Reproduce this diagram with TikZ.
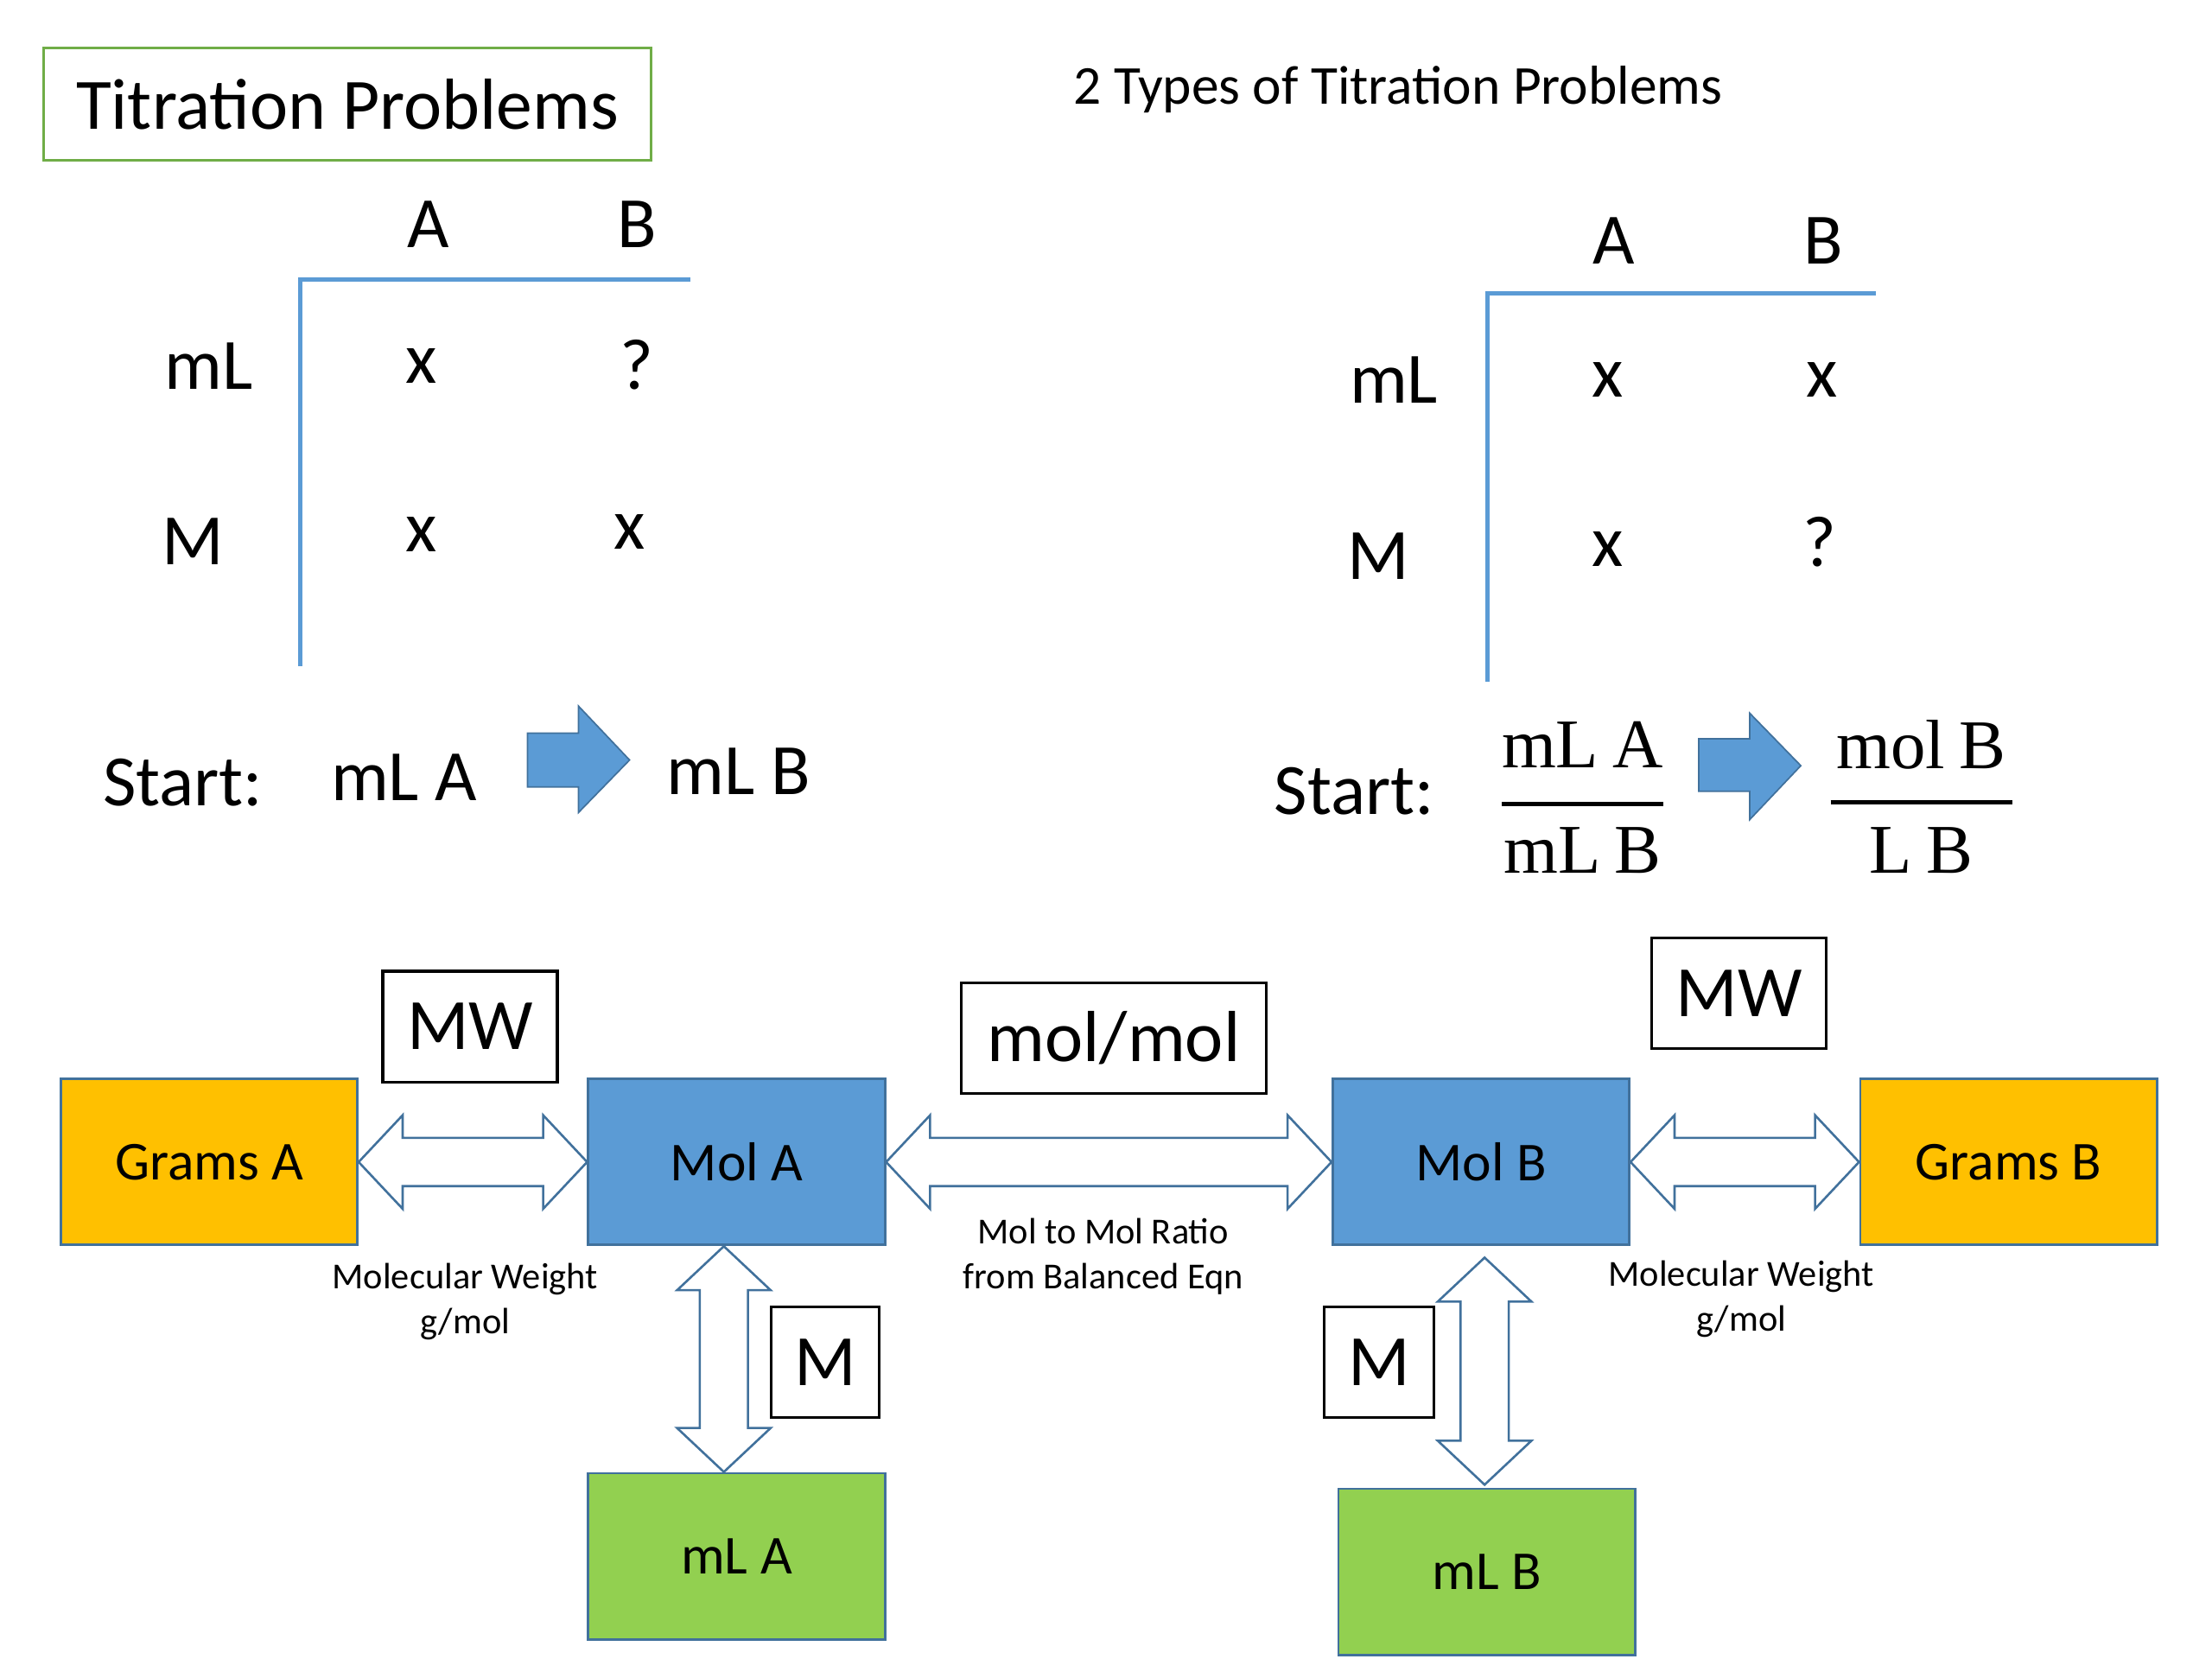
\documentclass[tikz,border=0pt]{standalone}
\usepackage{fontspec}
\setmainfont{Carlito}
\newfontfamily\serifm{Liberation Serif}
\usetikzlibrary{calc}
\definecolor{tblue}{HTML}{5B9BD5}
\definecolor{dblue}{HTML}{41719C}
\definecolor{torange}{HTML}{FFC000}
\definecolor{tgreen}{HTML}{92D050}
\definecolor{lgreen}{HTML}{70AD47}
\newcommand{\hdbl}[2]{%
  \path[dbl] (#1) -- ($(#1)+(31,-33)$) -- ($(#1)+(31,-17)$) -- ($(#2)+(-31,-17)$) -- ($(#2)+(-31,-33)$) -- (#2)
   -- ($(#2)+(-31,33)$) -- ($(#2)+(-31,17)$) -- ($(#1)+(31,17)$) -- ($(#1)+(31,33)$) -- cycle;}
\newcommand{\vdbl}[2]{%
  \path[dbl] (#1) -- ($(#1)+(-33,31)$) -- ($(#1)+(-17,31)$) -- ($(#2)+(-17,-31)$) -- ($(#2)+(-33,-31)$) -- (#2)
   -- ($(#2)+(33,-31)$) -- ($(#2)+(17,-31)$) -- ($(#1)+(17,31)$) -- ($(#1)+(33,31)$) -- cycle;}
\newcommand{\fsp}{\hspace{0.2em}}
\begin{document}
\begin{tikzpicture}[x=0.01cm,y=-0.01cm,
  big/.style={font=\fontsize{14.5}{17}\selectfont, inner sep=0pt},
  med/.style={font=\fontsize{11}{13}\selectfont, inner sep=0pt},
  small/.style={font=\fontsize{7.35}{9}\selectfont, inner sep=0pt, align=center},
  frac/.style={font=\serifm\fontsize{14}{16}\selectfont, inner sep=0pt},
  colbox/.style={draw=dblue, line width=0.5pt, minimum width=2.09cm, minimum height=1.17cm, inner sep=0pt, font=\fontsize{11}{13}\selectfont},
  lblbox/.style={draw=black, line width=0.55pt, minimum height=0.78cm, inner sep=0pt, font=\fontsize{14.5}{17}\selectfont},
  dbl/.style={draw=dblue, fill=white, line width=0.45pt, line join=miter},
  tline/.style={draw=tblue, line width=0.85pt},
  blockarrow/.style={fill=tblue, draw=dblue, line width=0.3pt},
  fracline/.style={draw=black, line width=0.85pt},
]
\useasboundingbox[fill=white] (0,0) rectangle (1560,1170);

% title
\node[draw=lgreen, line width=0.6pt, minimum width=4.28cm, minimum height=0.79cm, big] (title) at (245,73.5) {Titration Problems};
\node[med] (types) at (986,63) {2 Types of Titration Problems};

% left table
\coordinate (lt0) at (212,197);
\coordinate (lt1) at (487,197);
\coordinate (lt2) at (212,470);
\draw[tline] (lt1) -- (lt0) -- (lt2);
\node[big] (lA) at (302,158) {A};
\node[big] (lB) at (449,158) {B};
\node[big] (lmL) at (147,258) {mL};
\node[big] (lM) at (136,382) {M};
\node[big] (lx1) at (297,258) {x};
\node[big] (lq) at (449,257) {?};
\node[big] (lx2) at (297,377) {x};
\node[big] (lx3) at (444,375) {x};

% right table
\coordinate (rt0) at (1049,207);
\coordinate (rt1) at (1323,207);
\coordinate (rt2) at (1049,481);
\draw[tline] (rt1) -- (rt0) -- (rt2);
\node[big] (rA) at (1138,170) {A};
\node[big] (rB) at (1286,170) {B};
\node[big] (rmL) at (983,268) {mL};
\node[big] (rM) at (972,392) {M};
\node[big] (rx1) at (1134,268) {x};
\node[big] (rx2) at (1285,268) {x};
\node[big] (rx3) at (1134,387) {x};
\node[big] (rq) at (1283,382) {?};

% start left
\node[big] (ls) at (129,552) {Start:};
\node[big] (lmla) at (285,548) {mL A};
\node[big] (lmlb) at (521,544) {mL B};
\path[blockarrow] (372,517) -- (408,517) -- (408,498) -- (444,536) -- (408,573) -- (408,555) -- (372,555) -- cycle;

% start right
\node[big] (rs) at (955,558) {Start:};
\node[frac] (fn1) at (1116,525) {mL\fsp A};
\node[frac] (fd1) at (1116,600) {mL\fsp B};
\draw[fracline] (1059,567) -- (1173,567);
\path[blockarrow] (1198,521) -- (1234,521) -- (1234,503) -- (1270,540) -- (1234,578) -- (1234,558) -- (1198,558) -- cycle;
\node[frac] (fn2) at (1355,525) {mol\fsp B};
\node[frac] (fd2) at (1355,600) {L\fsp B};
\draw[fracline] (1291,566) -- (1419,566);

% flow boxes
\node[colbox, fill=torange] (ga) at (147.5,819.5) {Grams A};
\node[colbox, fill=tblue] (ma) at (519.5,819.5) {Mol A};
\node[colbox, fill=tblue] (mb) at (1044.5,819.5) {Mol B};
\node[colbox, fill=torange] (gb) at (1416.5,819.5) {Grams B};
\node[colbox, fill=tgreen] (la) at (519.5,1097.5) {mL A};
\node[colbox, fill=tgreen] (lb) at (1048.5,1108.5) {mL B};

% label boxes
\node[lblbox, minimum width=1.23cm] (mw1) at (331.5,724) {MW};
\node[lblbox, minimum width=2.15cm] (mm) at (785.5,732) {mol/mol};
\node[lblbox, minimum width=1.23cm] (mw2) at (1226.5,700.5) {MW};
\node[lblbox, minimum width=0.76cm] (m1) at (582,960.5) {M};
\node[lblbox, minimum width=0.77cm] (m2) at (972.5,960.5) {M};

% double arrows
\hdbl{ga.east}{ma.west}
\hdbl{ma.east}{mb.west}
\hdbl{mb.east}{gb.west}
\coordinate (va1) at ($(ma.south)+(-9,0)$);
\coordinate (va2) at ($(la.north)+(-9,0)$);
\vdbl{va1}{va2}
\coordinate (vb1) at ($(mb.south)+(2.5,8)$);
\coordinate (vb2) at ($(lb.north)+(-1.5,-2)$);
\vdbl{vb1}{vb2}

% small labels
\node[small] (mwl1) at (328,918) {Molecular Weight\\g/mol};
\node[small] (mr) at (778,886) {Mol to Mol Ratio\\from Balanced Eqn};
\node[small] (mwl2) at (1228,916) {Molecular Weight\\g/mol};
\end{tikzpicture}
\end{document}
